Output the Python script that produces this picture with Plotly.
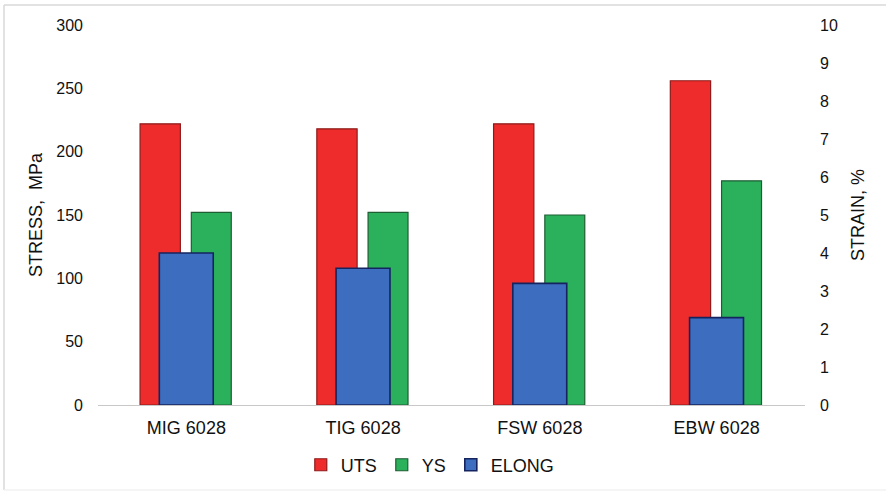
import plotly.graph_objects as go

categories = ["MIG 6028", "TIG 6028", "FSW 6028", "EBW 6028"]
uts = [222, 218, 222, 256]
ys = [152, 152, 150, 177]
elong = [4.0, 3.6, 3.2, 2.3]

left_ticks = [0, 50, 100, 150, 200, 250, 300]
right_ticks = list(range(0, 11))

font_family = "Liberation Sans, Arial, sans-serif"
text_color = "#111111"

fig = go.Figure()
fig.add_trace(go.Bar(
    x=categories, y=uts, name="UTS", yaxis="y",
    width=0.228, offset=-0.262,
    marker=dict(color="#EE2C2C", line=dict(color="#8E1B1B", width=1.2)),
))
fig.add_trace(go.Bar(
    x=categories, y=ys, name="YS", yaxis="y",
    width=0.226, offset=0.028,
    marker=dict(color="#2BB15C", line=dict(color="#1D5E33", width=1.2)),
))
fig.add_trace(go.Bar(
    x=categories, y=elong, name="ELONG", yaxis="y2",
    width=0.305, offset=-0.153,
    marker=dict(color="#3D6DBE", line=dict(color="#15245E", width=1.6)),
))

fig.update_layout(
    width=886, height=494,
    margin=dict(l=98, r=81, t=25, b=89, autoexpand=False),
    paper_bgcolor="white", plot_bgcolor="white",
    barmode="overlay",
    font=dict(family=font_family, size=16, color=text_color),
    showlegend=True,
    legend=dict(orientation="h", x=0.47, xanchor="center", y=-0.158, yanchor="middle",
                font=dict(size=18, color=text_color), itemwidth=30,
                traceorder="normal", tracegroupgap=0),
    xaxis=dict(
        type="category", range=[-0.5, 3.5], showgrid=False,
        showline=True, linecolor="#c8c8c8", linewidth=1.2,
        ticks="", ticklabelstandoff=6,
        tickfont=dict(size=18, color=text_color),
    ),
    yaxis=dict(
        range=[0, 300], tickvals=left_ticks, showgrid=False, zeroline=False,
        showline=False, ticks="", ticklabelstandoff=14,
        tickfont=dict(size=16, color=text_color),
        title=dict(text="STRESS,  MPa", standoff=8, font=dict(size=18, color=text_color)),
    ),
    yaxis2=dict(
        range=[0, 10], tickvals=right_ticks, overlaying="y", side="right",
        showgrid=False, zeroline=False, showline=False, ticks="", ticklabelstandoff=14,
        tickfont=dict(size=16, color=text_color),
        title=dict(text="STRAIN, %", standoff=14, font=dict(size=18, color=text_color)),
    ),
    shapes=[
        dict(type="line", xref="paper", yref="paper",
             x0=(4 - 98) / 707, x1=(886 - 98) / 707,
             y0=(405 - 5) / 380, y1=(405 - 5) / 380,
             line=dict(color="#d9d9d9", width=1.5)),
        dict(type="line", xref="paper", yref="paper",
             x0=(4 - 98) / 707, x1=(4 - 98) / 707,
             y0=(405 - 490) / 380, y1=(405 - 5) / 380,
             line=dict(color="#d9d9d9", width=1.5)),
        dict(type="line", xref="paper", yref="paper",
             x0=(4 - 98) / 707, x1=(886 - 98) / 707,
             y0=(405 - 490) / 380, y1=(405 - 490) / 380,
             line=dict(color="#f2f2f2", width=1.5)),
    ],
)

fig.write_html("out.html")
